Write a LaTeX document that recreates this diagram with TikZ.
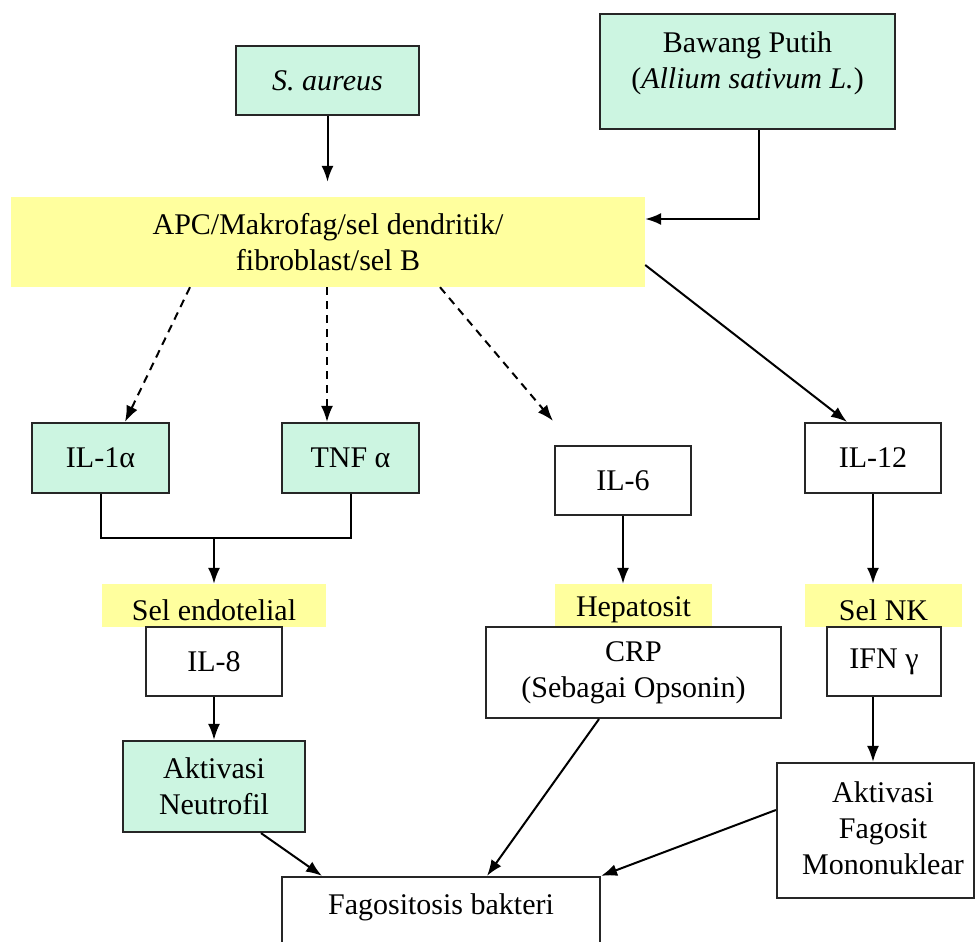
\documentclass[tikz,border=0pt]{standalone}
\usepackage{fontspec}
\setmainfont{Liberation Serif}
\usetikzlibrary{arrows.meta}
\definecolor{mint}{HTML}{CCF5E1}
\definecolor{lemon}{HTML}{FFFF9E}
\begin{document}
\begin{tikzpicture}[x=1pt,y=-1pt,
  every node/.style={font=\fontsize{30}{36}\selectfont, inner sep=0pt, align=center},
  box/.style={draw=black!85, line width=2.2pt, fill=white},
  gbox/.style={box, fill=mint},
  ylab/.style={fill=lemon},
  txt/.style={fill=none, draw=none},
  arr/.style={line width=2pt, -{Latex[length=16pt,width=12pt]}},
  darr/.style={arr, dash pattern=on 8pt off 6pt},
  plain/.style={line width=2pt}]
\useasboundingbox (0,0) rectangle (975,942);
\clip (0,0) rectangle (975,942);

% top
\node[gbox, minimum width=183pt, minimum height=69pt] (sa) at (327.5,80.5) {\itshape S. aureus};
\node[gbox, minimum width=295pt, minimum height=115pt] (bp) at (747.5,71.5) {};
\node[txt] (bpt) at (747.5,63) {Bawang Putih\\(\textit{Allium sativum L.})};
\node[ylab, minimum width=634pt, minimum height=90pt] (apc) at (328,242) {APC/Makrofag/sel dendritik/\\fibroblast/sel B};

% cytokines
\node[gbox, minimum width=137pt, minimum height=70pt] (il1) at (100.5,458) {IL-1α};
\node[gbox, minimum width=137pt, minimum height=70pt] (tnf) at (350.5,458) {TNF α};
\node[box, minimum width=136pt, minimum height=69pt] (il6) at (623,480.5) {IL-6};
\node[box, minimum width=136pt, minimum height=70pt] (il12) at (873,458) {IL-12};

% yellow labels
\node[ylab, minimum width=224pt, minimum height=43pt] (selendo) at (214,605.5) {};
\node[txt] (selendot) at (214,610) {Sel endotelial};
\node[ylab, minimum width=157pt, minimum height=43pt] (hepa) at (633.5,605.5) {};
\node[txt] (hepat) at (633.5,610) {Hepatosit};
\node[ylab, minimum width=157pt, minimum height=43pt] (selnk) at (883.5,605.5) {};
\node[txt] (selnkt) at (883.5,610) {Sel NK};

% second level
\node[box, minimum width=136pt, minimum height=69pt] (il8) at (214,661.5) {IL-8};
\node[box, minimum width=295pt, minimum height=91pt] (crp) at (633.5,672.5) {CRP\\(Sebagai Opsonin)};
\node[box, minimum width=114pt, minimum height=69pt] (ifn) at (884,661.5) {IFN γ};

% bottom
\node[gbox, minimum width=182pt, minimum height=91pt] (neut) at (214,786.5) {Aktivasi\\Neutrofil};
\node[box, minimum width=197pt, minimum height=135pt] (mono) at (875.5,830.5) {};
\node[txt] (monot) at (883,828) {Aktivasi\\Fagosit\\Mononuklear};
\node[box, minimum width=318pt, minimum height=80pt] (fago) at (441,917) {};
\node[txt] (fagot) at (441,907) {Fagositosis bakteri};

% connectors
\draw[arr, shorten >=15pt] (sa.south) -- (sa.south |- apc.north);
\draw[arr] ([xshift=11.5pt]bp.south) |- ([yshift=23pt]apc.east);

\draw[darr] ([xshift=-138pt]apc.south) -- ([xshift=24.5pt]il1.north);
\draw[darr] ([xshift=-1pt]apc.south) -- ([xshift=-23.5pt]tnf.north);
\coordinate (il6in) at ([xshift=-70pt,yshift=24pt]il6.north);
\draw[darr] ([xshift=112pt]apc.south) -- (il6in);
\draw[arr] ([yshift=-23pt]apc.east) -- ([xshift=-26pt]il12.north);

\coordinate (join) at (214,538);
\draw[plain] (il1.south) |- (join) -| (tnf.south);
\draw[arr] (join) -- (selendo.north);
\draw[arr] (il6.south) -- (il6.south |- hepa.north);
\draw[arr] (il12.south) -- (il12.south |- selnk.north);

\draw[arr] (il8.south) -- (neut.north);
\draw[arr] (il12.south |- ifn.south) -- (il12.south |- mono.north);

\draw[arr] ([xshift=47pt]neut.south) -- ([xshift=-119pt]fago.north);
\draw[arr] ([xshift=-34.5pt]crp.south) -- ([xshift=46pt]fago.north);
\draw[arr] ([yshift=20.5pt]mono.west) -- (fago.north east);
\end{tikzpicture}
\end{document}
